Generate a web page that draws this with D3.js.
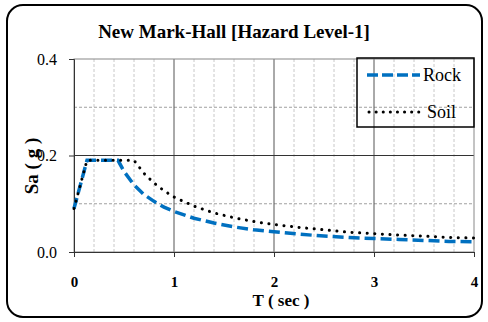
<!DOCTYPE html>
<html>
<head>
<meta charset="utf-8">
<script src="https://cdn.jsdelivr.net/npm/d3@7"></script>
<style>
  body { margin: 0; background: #fff; }
  svg text { font-family: "Liberation Serif", "DejaVu Serif", serif; }
</style>
</head>
<body>
<script>
// Valeurs
const rockT  = [0, 0.13, 0.44, 0.5, 0.6, 0.7, 0.8, 0.9, 1.0, 1.2, 1.4, 1.6, 1.8, 2.0, 2.25, 2.5, 2.75, 3.0, 3.25, 3.5, 3.75, 4.0];
const rockSa = [0.09, 0.19, 0.19, 0.167, 0.139, 0.119, 0.105, 0.093, 0.084, 0.070, 0.060, 0.052, 0.046, 0.042, 0.037, 0.033, 0.030, 0.028, 0.026, 0.024, 0.022, 0.021];
const soilT  = [0, 0.13, 0.6, 0.7, 0.8, 0.9, 1.0, 1.2, 1.4, 1.6, 1.8, 2.0, 2.25, 2.5, 2.75, 3.0, 3.25, 3.5, 3.75, 4.0];
const soilSa = [0.09, 0.19, 0.19, 0.163, 0.143, 0.127, 0.114, 0.095, 0.081, 0.071, 0.063, 0.057, 0.051, 0.046, 0.041, 0.038, 0.035, 0.033, 0.030, 0.029];
const xTicks = [0, 1, 2, 3, 4];
const yTicks = [0.0, 0.2, 0.4];
const xMinor = [0.2, 0.4, 0.6, 0.8, 1.2, 1.4, 1.6, 1.8, 2.2, 2.4, 2.6, 2.8, 3.2, 3.4, 3.6, 3.8];
const yMinor = [0.1, 0.3];

const FONT = "Liberation Serif";
const width = 488, height = 322;
const margin = { left: 74, right: 14, top: 59, bottom: 70 };

const svg = d3.select("body").append("svg").attr("width", width).attr("height", height);

// Cadre arrondi
svg.append("rect")
    .attr("x", 7).attr("y", 5).attr("width", 475).attr("height", 312)
    .attr("rx", 16).attr("ry", 16)
    .style("fill", "#fff").style("stroke", "#000").style("stroke-width", 2);

const x = d3.scaleLinear().domain([0, 4]).range([margin.left, width - margin.right]);
const y = d3.scaleLinear().domain([0, 0.4]).range([height - margin.bottom, margin.top]);

const g = svg.append("g");

// Grille secondaire
g.selectAll(".vminor").data(xMinor).enter().append("line")
    .attr("x1", d => x(d)).attr("x2", d => x(d))
    .attr("y1", y(0)).attr("y2", y(0.4))
    .style("stroke", "#c8c8c8").style("stroke-dasharray", "3,2").style("stroke-width", 1);
g.selectAll(".hminor").data(yMinor).enter().append("line")
    .attr("x1", x(0)).attr("x2", x(4))
    .attr("y1", d => y(d)).attr("y2", d => y(d))
    .style("stroke", "#a0a0a0").style("stroke-dasharray", "3,2").style("stroke-width", 1);

// Grille principale
g.selectAll(".vmajor").data([1, 2, 3]).enter().append("line")
    .attr("x1", d => x(d)).attr("x2", d => x(d))
    .attr("y1", y(0)).attr("y2", y(0.4))
    .style("stroke", "#555").style("stroke-width", 1);
g.selectAll(".hmajor").data([0.2]).enter().append("line")
    .attr("x1", x(0)).attr("x2", x(4))
    .attr("y1", d => y(d)).attr("y2", d => y(d))
    .style("stroke", "#333").style("stroke-width", 1);

// Bord de la zone de tracé
g.append("rect")
    .attr("x", x(0)).attr("y", y(0.4))
    .attr("width", x(4) - x(0)).attr("height", y(0) - y(0.4))
    .style("fill", "none").style("stroke", "#888").style("stroke-width", 1);

// Axes
const xAxis = g.append("g").attr("transform", `translate(0,${y(0)})`)
    .call(d3.axisBottom(x).tickValues(xTicks).tickSize(5).tickFormat(d3.format("d")));
xAxis.attr("font-family", FONT);
xAxis.select(".domain").style("stroke", "#333");
xAxis.selectAll(".tick line").style("stroke", "#333");
xAxis.selectAll("text").attr("dy", 0).attr("y", 35)
    .style("font-weight", "bold").style("font-size", "15px").style("fill", "#000");

const yAxis = g.append("g").attr("transform", `translate(${x(0)},0)`)
    .call(d3.axisLeft(y).tickValues(yTicks).tickSize(5).tickFormat(d3.format(".1f")));
yAxis.attr("font-family", FONT);
yAxis.select(".domain").style("stroke", "#333");
yAxis.selectAll(".tick line").style("stroke", "#333");
yAxis.selectAll("text").attr("x", -17)
    .style("font-size", "16px").style("fill", "#000");

// Courbes
const line = d3.line().x(d => x(d[0])).y(d => y(d[1]));
const rock = rockT.map((t, i) => [t, rockSa[i]]);
const soil = soilT.map((t, i) => [t, soilSa[i]]);

g.append("path").datum(rock).attr("d", line)
    .style("fill", "none").style("stroke", "#0070C0").style("stroke-width", 3.5)
    .style("stroke-dasharray", "11,5");
g.append("path").datum(soil).attr("d", line)
    .style("fill", "none").style("stroke", "#000").style("stroke-width", 3)
    .style("stroke-linecap", "round").style("stroke-dasharray", "0.1,7.5");

// Légende
const legend = svg.append("g");
legend.append("rect")
    .attr("x", 357).attr("y", 58).attr("width", 117).attr("height", 69)
    .style("fill", "none").style("stroke", "#000").style("stroke-width", 1.5);
legend.append("line").attr("x1", 367).attr("x2", 420).attr("y1", 75).attr("y2", 75)
    .style("stroke", "#0070C0").style("stroke-width", 3.5).style("stroke-dasharray", "11,4");
legend.append("line").attr("x1", 369).attr("x2", 420).attr("y1", 112).attr("y2", 112)
    .style("stroke", "#000").style("stroke-width", 3).style("stroke-linecap", "round")
    .style("stroke-dasharray", "0.1,7");
legend.append("text").attr("x", 423).attr("y", 81).text("Rock")
    .style("font-family", FONT).style("font-size", "18px");
legend.append("text").attr("x", 427).attr("y", 118).text("Soil")
    .style("font-family", FONT).style("font-size", "18px");

// Titres
svg.append("text").attr("x", 234).attr("y", 38).attr("text-anchor", "middle")
    .text("New Mark-Hall [Hazard Level-1]")
    .style("font-family", FONT).style("font-weight", "bold").style("font-size", "19px");
svg.append("text").attr("x", 281).attr("y", 306).attr("text-anchor", "middle")
    .text("T ( sec )")
    .style("font-family", FONT).style("font-weight", "bold").style("font-size", "17px");
svg.append("text").attr("transform", "translate(38,166) rotate(-90)").attr("text-anchor", "middle")
    .text("Sa ( g )")
    .style("font-family", FONT).style("font-weight", "bold").style("font-size", "19px");
</script>
</body>
</html>
